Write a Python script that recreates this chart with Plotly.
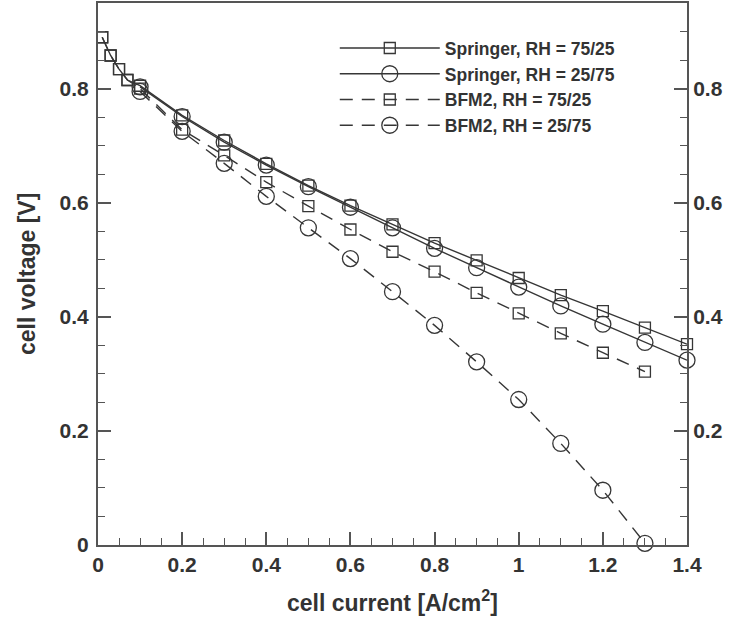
import plotly.graph_objects as go

# ---- data ----
x_sq = [0.01, 0.03, 0.05, 0.07, 0.1, 0.2, 0.3, 0.4, 0.5, 0.6, 0.7, 0.8, 0.9, 1.0, 1.1, 1.2, 1.3, 1.4]
springer_7525 = [0.89, 0.858, 0.834, 0.815, 0.805, 0.753, 0.709, 0.668, 0.630, 0.595, 0.562, 0.529,
                 0.499, 0.468, 0.438, 0.410, 0.381, 0.352]

x_circ = [0.1, 0.2, 0.3, 0.4, 0.5, 0.6, 0.7, 0.8, 0.9, 1.0, 1.1, 1.2, 1.3, 1.4]
springer_2575 = [0.803, 0.751, 0.706, 0.666, 0.628, 0.592, 0.556, 0.520, 0.486, 0.452, 0.419,
                 0.387, 0.355, 0.324]

x_bfm_sq = [0.01, 0.03, 0.05, 0.07, 0.1, 0.2, 0.3, 0.4, 0.5, 0.6, 0.7, 0.8, 0.9, 1.0, 1.1, 1.2, 1.3]
bfm2_7525 = [0.89, 0.858, 0.834, 0.815, 0.800, 0.728, 0.683, 0.636, 0.594, 0.553, 0.514, 0.479,
             0.442, 0.406, 0.371, 0.337, 0.304]

x_bfm_circ = [0.1, 0.2, 0.3, 0.4, 0.5, 0.6, 0.7, 0.8, 0.9, 1.0, 1.1, 1.2, 1.3]
bfm2_2575 = [0.795, 0.725, 0.669, 0.611, 0.556, 0.502, 0.444, 0.385, 0.321, 0.255, 0.178, 0.096, 0.003]

names = ["Springer, RH = 75/25", "Springer, RH = 25/75", "BFM2, RH = 75/25", "BFM2, RH = 25/75"]
x_ticks = [0, 0.2, 0.4, 0.6, 0.8, 1, 1.2, 1.4]
x_ticktext = ["0", "0.2", "0.4", "0.6", "0.8", "1", "1.2", "1.4"]
y_ticks = [0, 0.2, 0.4, 0.6, 0.8]
y2_ticks = [0.2, 0.4, 0.6, 0.8]
x_title = "cell current [A/cm<sup>2</sup>]"
y_title = "cell voltage [V]"

# ---- style ----
LC = "#363636"
AX = "#555555"
TXT = "#333333"
FONT = "Liberation Sans"
DASH = "13px,9px"

fig = go.Figure()

def add(x, y, name, symbol, size, dash):
    fig.add_trace(go.Scatter(
        x=x, y=y, name=name, mode="lines+markers",
        line=dict(color=LC, width=1.4, dash=dash),
        marker=dict(symbol=symbol, size=size, color=LC, line=dict(color=LC, width=1.3)),
        cliponaxis=False,
    ))

add(x_sq, springer_7525, names[0], "square-open", 11, "solid")
add(x_circ, springer_2575, names[1], "circle-open", 16, "solid")
add(x_bfm_sq, bfm2_7525, names[2], "square-open", 11, DASH)
add(x_bfm_circ, bfm2_2575, names[3], "circle-open", 16, DASH)

# empty trace to carry the right-hand axis
fig.add_trace(go.Scatter(x=[], y=[], yaxis="y2", showlegend=False, hoverinfo="skip"))

tickfont = dict(family=FONT, size=21, color=TXT, weight="bold")
titlefont = dict(family=FONT, size=23, color=TXT, weight="bold")

common = dict(
    showgrid=False, zeroline=False, automargin=False,
    showline=True, linecolor=AX, linewidth=2,
    ticks="inside", ticklen=13, tickwidth=1.5, tickcolor=AX,
    minor=dict(dtick=0.05, tick0=0, ticks="inside", ticklen=7, tickwidth=1.3, tickcolor=AX),
    tickfont=tickfont,
)

fig.update_layout(
    width=735, height=621,
    paper_bgcolor="white", plot_bgcolor="white",
    margin=dict(l=98, r=48, t=3, b=76),
    font=dict(family=FONT, color=TXT),
    showlegend=True,
    legend=dict(
        x=0.402, y=0.95, xanchor="left", yanchor="top",
        bgcolor="rgba(0,0,0,0)", borderwidth=0,
        itemwidth=100,
        font=dict(family=FONT, size=17.5, color=TXT, weight="bold"),
        tracegroupgap=0,
    ),
    xaxis=dict(range=[0, 1.4], tickvals=x_ticks, ticktext=x_ticktext, mirror=True,
               ticklabelstandoff=0, **common),
    yaxis=dict(range=[0, 0.95], tickvals=y_ticks, mirror=False, ticklabelstandoff=3, **common),
    yaxis2=dict(overlaying="y", side="right", range=[0, 0.95], tickvals=y2_ticks,
                ticklabelstandoff=0, **common),
    annotations=[
        dict(text=x_title, xref="paper", yref="paper", x=0.5, y=0, yshift=-56,
             xanchor="center", yanchor="middle", showarrow=False, font=titlefont),
        dict(text=y_title, xref="paper", yref="paper", x=0, y=0.5, xshift=-71,
             xanchor="center", yanchor="middle", textangle=-90, showarrow=False, font=titlefont),
    ],
)

fig.write_html("out.html", config={"displayModeBar": False},
               post_script="document.body.style.margin='0';document.body.style.padding='0';")
